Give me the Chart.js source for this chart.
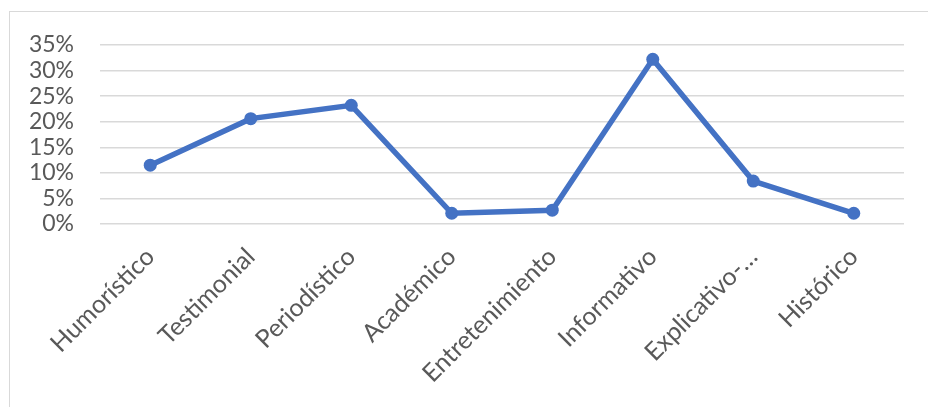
<!DOCTYPE html>
<html>
<head>
<meta charset="utf-8">
<script src="https://cdn.jsdelivr.net/npm/chart.js@4/dist/chart.umd.min.js"></script>
<style>
    html, body { margin: 0; padding: 0; background: #ffffff; overflow: hidden; }
    #wrap { position: relative; width: 928px; height: 407px; }
    #frame { position: absolute; left: 9px; top: 11px; width: 960px; height: 440px; border: 1.5px solid #d9d9d9; box-sizing: border-box; }
    #chart { position: absolute; left: 0; top: 0; }
</style>
</head>
<body>
<div id="wrap">
    <div id="frame"></div>
    <canvas id="chart" width="928" height="407"></canvas>
</div>
<script>
// Categories and series values (percent)
const categories = ['Humorístico', 'Testimonial', 'Periodístico', 'Académico', 'Entretenimiento', 'Informativo', 'Explicativo-…', 'Histórico'];
const shares = [11.5, 20.6, 23.2, 2.1, 2.7, 32.2, 8.4, 2.1];
const yMin = 0;
const yMax = 35;
const yStep = 5;

const lineColor = '#4472C4';
const textColor = '#595959';
const gridColor = '#d9d9d9';
const fontFamily = 'Lato, "Open Sans", sans-serif';

new Chart(document.getElementById('chart'), {
    type: 'line',
    data: {
        labels: categories,
        datasets: [{
            data: shares,
            borderColor: lineColor,
            backgroundColor: lineColor,
            borderWidth: 5.5,
            pointRadius: 6.5,
            pointHoverRadius: 6.5,
            pointBorderWidth: 0,
            tension: 0
        }]
    },
    options: {
        responsive: false,
        animation: false,
        layout: {
            padding: { top: 45, right: 24, bottom: 0, left: 0 }
        },
        plugins: {
            legend: { display: false },
            tooltip: { enabled: false }
        },
        scales: {
            x: {
                offset: true,
                grid: { display: false, drawTicks: false },
                border: { display: false },
                ticks: {
                    autoSkip: false,
                    minRotation: 45,
                    maxRotation: 45,
                    padding: 18,
                    color: textColor,
                    font: { family: fontFamily, size: 25 }
                },
                afterFit(scale) {
                    scale.height = 183;
                    scale.paddingLeft = 0;
                    scale.paddingRight = 0;
                }
            },
            y: {
                min: yMin,
                max: yMax,
                grid: { color: gridColor, lineWidth: 1.5, drawTicks: false },
                border: { display: false },
                ticks: {
                    autoSkip: false,
                    stepSize: yStep,
                    padding: 26,
                    color: textColor,
                    font: { family: fontFamily, size: 23 },
                    callback: (v) => v + '%'
                },
                afterFit(scale) {
                    scale.width = 100;
                }
            }
        }
    }
});
</script>
</body>
</html>
